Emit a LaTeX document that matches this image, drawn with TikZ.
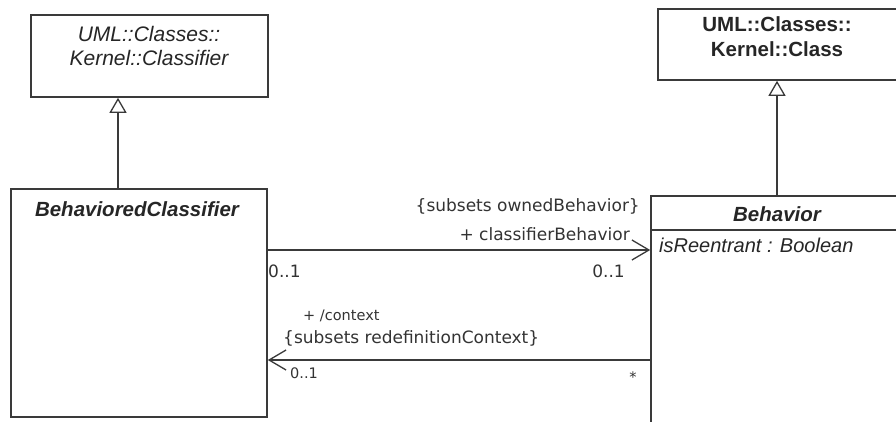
\documentclass[tikz,border=0pt]{standalone}
\usepackage{fontspec}
\setmainfont{Liberation Sans}
\newfontfamily\labelfont{DejaVu Sans}
\usetikzlibrary{arrows.meta, positioning, calc}
\definecolor{umlgray}{RGB}{58, 58, 58}
\tikzset{
  classbox/.style={draw=umlgray, line width=1.6pt, fill=white, inner sep=0pt},
  classname/.style={inner sep=0pt, text=black!85},
  generalize/.style={draw=umlgray, line width=1.3pt, -{Triangle[open, length=15pt, width=17pt, line width=1.3pt]}},
  assoc/.style={draw=umlgray, line width=1.3pt, -{Straight Barb[length=17pt, width=20pt, line width=1.3pt]}},
  rolelabel/.style={inner sep=0pt, font=\labelfont\fontsize{17}{20}\selectfont, text=black!80},
  smalllabel/.style={inner sep=0pt, font=\labelfont\fontsize{14.5}{17}\selectfont, text=black!80},
}

\begin{document}
\begin{tikzpicture}[x=1pt, y=-1pt]
  \useasboundingbox (0,0) rectangle (896,421);
  \clip (0,0) rectangle (896,421);
  \fill[white] (0,0) rectangle (896,421);

  \node[classbox, minimum width=237pt, minimum height=82pt] (classifier) at (149.5,56) {};
  \node[classname, anchor=north, align=center, font=\fontsize{21}{24}\selectfont\itshape] (classifiername) at (149,26) {UML::Classes::\\Kernel::Classifier};

  \node[classbox, minimum width=242pt, minimum height=71pt] (kclass) at (779,44.5) {};
  \node[classname, anchor=north, align=center, font=\fontsize{20.5}{25}\selectfont\bfseries] (kclassname) at (777,16.7) {UML::Classes::\\Kernel::Class};

  \node[classbox, minimum width=256pt, minimum height=228pt] (bc) at (139,303) {};
  \node[classname, anchor=base, font=\fontsize{20.5}{24}\selectfont\bfseries\itshape] (bcname) at (137,216.7) {BehavioredClassifier};

  \node[classbox, minimum width=280pt, minimum height=270pt] (beh) at (791,331) {};
  \node[classname, anchor=base, font=\fontsize{20.5}{24}\selectfont\bfseries\itshape] (behname) at (777,221.7) {Behavior};
  \draw[umlgray, line width=1.6pt] (beh.west |- 0,230) -- (beh.east |- 0,230);
  \node[classname, anchor=base west, font=\fontsize{20}{24}\selectfont\itshape] (reentrant) at (659,252) {isReentrant : Boolean};

  \draw[generalize] ([xshift=-21pt]bc.north) -- ([xshift=-21pt]bc.north |- classifier.south);
  \draw[generalize] ([xshift=-14pt]beh.north) -- ([xshift=-14pt]beh.north |- kclass.south);

  \draw[assoc] (bc.east |- 0,250) -- (beh.west |- 0,250);
  \draw[assoc] (beh.west |- 0,360) -- (bc.east |- 0,360);

  \node[rolelabel, anchor=base east] (ownedlbl) at (640,211) {\{subsets ownedBehavior\}};
  \node[rolelabel, anchor=base east] (classifierlbl) at (630,240) {+ classifierBehavior};
  \node[rolelabel, anchor=base west] (bcmult) at (268,277) {0..1};
  \node[rolelabel, anchor=base east] (behmult) at (625,277) {0..1};
  \node[smalllabel, anchor=base west] (contextlbl) at (303,320) {+ /context};
  \node[rolelabel, anchor=base west] (redeflbl) at (283,343) {\{subsets redefinitionContext\}};
  \node[smalllabel, anchor=base west] (ctxmult) at (290,378) {0..1};
  \node[smalllabel, anchor=base] (ctxstar) at (633,382) {*};
\end{tikzpicture}
\end{document}
